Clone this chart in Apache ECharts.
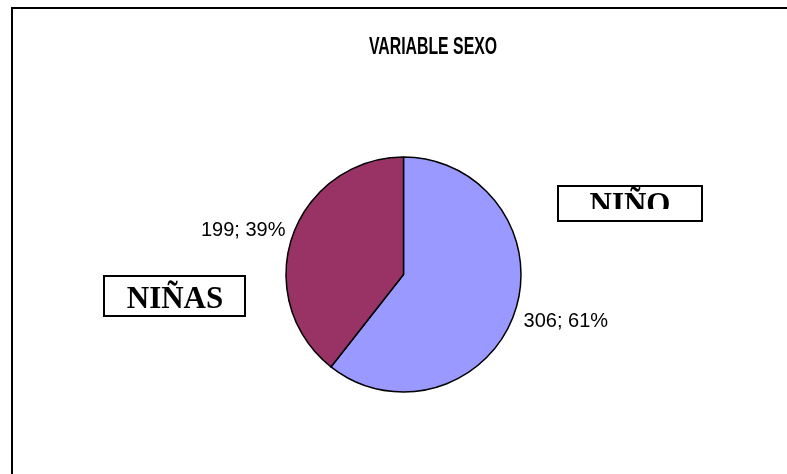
<!DOCTYPE html>
<html>
<head>
<meta charset="utf-8">
<script src="https://cdn.jsdelivr.net/npm/echarts@6/dist/echarts.min.js"></script>
<style>html,body{margin:0;padding:0;background:#fff}#c{width:787px;height:474px}</style>
</head>
<body>
<div id="c"></div>
<script>
var titleText = 'VARIABLE SEXO';
var categories = ['NIÑO', 'NIÑAS'];
var values = [306, 199];
var colors = ['#9999FF', '#993366'];

var chart = echarts.init(document.getElementById('c'), null, {renderer: 'canvas'});
var font = '"Liberation Sans", Arial, sans-serif';
var serif = '"Liberation Serif", "Times New Roman", serif';

function box(x, y, w, h, text, textX, textY, clipY) {
  return [
    {type: 'text', z: 10, style: {x: textX, y: textY, text: text, fill: '#000', font: 'bold 31px ' + serif, textAlign: 'center', textVerticalAlign: 'top'}},
    {type: 'rect', z: 11, shape: {x: x + 1, y: clipY, width: w - 2, height: y + h - clipY - 1}, style: {fill: '#fff'}},
    {type: 'rect', z: 12, shape: {x: x, y: y, width: w, height: h}, style: {fill: 'none', stroke: '#000', lineWidth: 2}}
  ];
}

var graphics = [
  {type: 'rect', z: 1, shape: {x: 12, y: 8, width: 800, height: 500}, style: {fill: 'none', stroke: '#000', lineWidth: 2}},
  {type: 'text', z: 5, x: 433, y: 47, scaleX: 0.66, style: {text: titleText, fill: '#000', font: 'bold 24px ' + font, textAlign: 'center', textVerticalAlign: 'middle'}}
].concat(box(558, 186, 144, 35, categories[0], 630, 190, 209))
 .concat(box(104, 276, 141, 40, categories[1], 175, 284, 308));

chart.setOption({
  backgroundColor: '#fff',
  animation: false,
  graphic: graphics,
  series: [{
    type: 'pie',
    center: [403.5, 274.5],
    radius: 117.5,
    startAngle: 90,
    clockwise: true,
    data: categories.map(function (c, i) {
      return {name: c, value: values[i], itemStyle: {color: colors[i]}};
    }),
    itemStyle: {borderColor: '#000', borderWidth: 1.5},
    label: {
      show: true, position: 'outside', fontFamily: font, fontSize: 20, color: '#000',
      formatter: function (p) { return p.value + '; ' + Math.round(p.percent) + '%'; }
    },
    labelLine: {show: false, length: 0, length2: 0},
    labelLayout: function (p) { return p.dataIndex === 0 ? {dy: 9, dx: 4} : {dy: -6, dx: -2}; },
    emphasis: {disabled: true}
  }]
});
</script>
</body>
</html>
